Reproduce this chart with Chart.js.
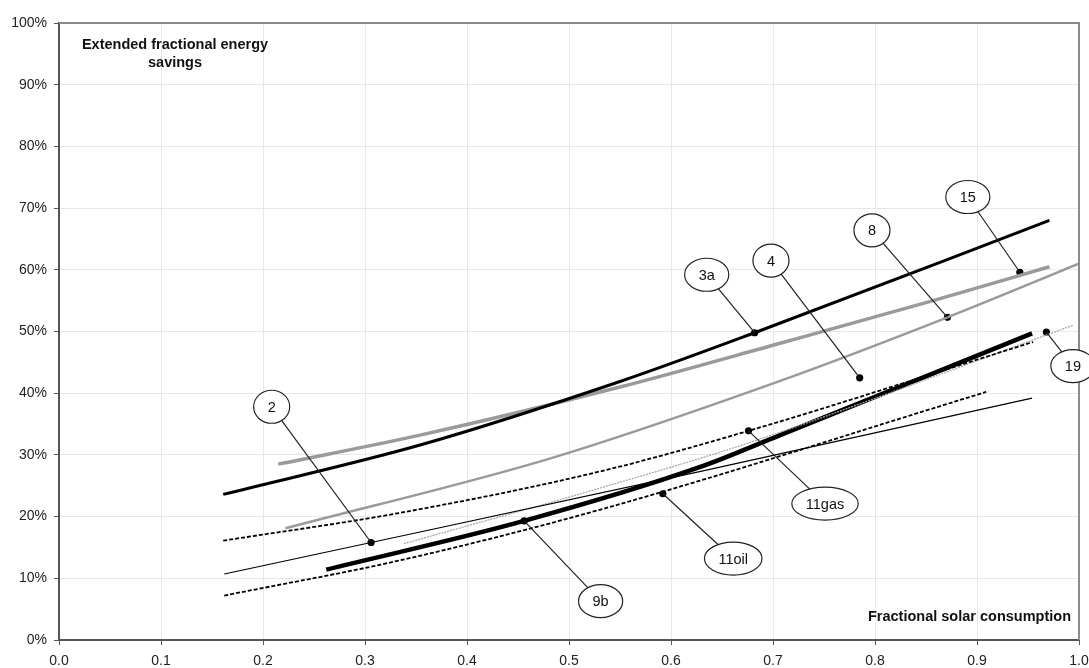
<!DOCTYPE html>
<html>
<head>
<meta charset="utf-8">
<script src="https://cdn.jsdelivr.net/npm/chart.js@4.4.1/dist/chart.umd.min.js"></script>
<style>
  html, body { margin: 0; padding: 0; background: #fff; }
  #wrap { width: 1089px; height: 668px; position: relative; }
</style>
</head>
<body>
<div id="wrap"><canvas id="chart"></canvas></div>
<script>
  // ── Series data (x = fractional solar consumption, y = savings %) ──
  const line3aX = [0.161, 0.354, 0.550, 0.682, 0.971];
  const line3aY = [23.6, 31.6, 41.9, 49.8, 68.0];

  const line8X = [0.215, 0.354, 0.550, 0.707, 0.857, 0.971];
  const line8Y = [28.5, 33.2, 41.0, 48.1, 55.0, 60.5];

  const line4X = [0.222, 0.481, 0.707, 0.871, 1.0];
  const line4Y = [18.1, 29.4, 42.0, 52.3, 61.0];

  const line9bX = [0.262, 0.456, 0.628, 0.707, 0.954];
  const line9bY = [11.4, 19.3, 28.0, 33.2, 49.7];

  const line11gasX = [0.161, 0.334, 0.530, 0.676, 0.955];
  const line11gasY = [16.1, 20.6, 27.3, 33.9, 48.3];

  const line11oilX = [0.162, 0.334, 0.530, 0.909];
  const line11oilY = [7.2, 12.9, 21.1, 40.2];

  const line2X = [0.162, 0.306, 0.628, 0.954];
  const line2Y = [10.7, 15.8, 27.3, 39.2];

  const line19X = [0.338, 0.530, 0.677, 0.994];
  const line19Y = [15.6, 24.6, 32.0, 51.0];

  // ── Callouts: label, bubble position, marker position ──
  const calloutNames   = ['2', '3a', '4', '8', '15', '19', '11gas', '11oil', '9b'];
  const calloutBubbleX = [0.2085, 0.635, 0.698, 0.797, 0.891, 0.994, 0.751, 0.661, 0.531];
  const calloutBubbleY = [37.8, 59.2, 61.5, 66.4, 71.8, 44.4, 22.1, 13.2, 6.3];
  const calloutMarkX   = [0.306, 0.682, 0.785, 0.871, 0.942, 0.968, 0.676, 0.592, 0.456];
  const calloutMarkY   = [15.8, 49.8, 42.5, 52.3, 59.6, 49.9, 33.9, 23.7, 19.3];

  const xTicks = [0, 0.1, 0.2, 0.3, 0.4, 0.5, 0.6, 0.7, 0.8, 0.9, 1.0];
  const yTicks = [0, 10, 20, 30, 40, 50, 60, 70, 80, 90, 100];

  const FONT = "'Liberation Sans', Arial, sans-serif";
  const GRAY = '#9a9a9a';

  const pts = (xs, ys) => xs.map((x, i) => ({ x, y: ys[i] }));

  function series(xs, ys, color, width, dash) {
    return {
      data: pts(xs, ys),
      showLine: true,
      borderColor: color,
      backgroundColor: color,
      borderWidth: width,
      borderDash: dash || [],
      pointRadius: 0,
      cubicInterpolationMode: 'monotone',
      borderCapStyle: 'butt'
    };
  }

  // Frame, axis titles and callout bubbles
  const decorPlugin = {
    id: 'decor',
    afterDatasetsDraw(chart) {
      const { ctx, chartArea: a, scales: { x, y } } = chart;
      ctx.save();

      // top / right frame
      ctx.strokeStyle = '#8c8c8c';
      ctx.lineWidth = 2;
      ctx.beginPath();
      ctx.moveTo(a.left, a.top);
      ctx.lineTo(a.right, a.top);
      ctx.lineTo(a.right, a.bottom);
      ctx.stroke();

      // axis titles
      ctx.fillStyle = '#111';
      ctx.font = 'bold 14.5px ' + FONT;
      ctx.textAlign = 'center';
      ctx.textBaseline = 'middle';
      ctx.fillText('Extended fractional energy', a.left + 116, 45);
      ctx.fillText('savings', a.left + 116, 63);
      ctx.textAlign = 'right';
      ctx.fillText('Fractional solar consumption', a.right - 8, 617);

      // callouts
      ctx.font = '14.5px ' + FONT;
      calloutNames.forEach((name, i) => {
        const bx = x.getPixelForValue(calloutBubbleX[i]);
        const by = y.getPixelForValue(calloutBubbleY[i]);
        const mx = x.getPixelForValue(calloutMarkX[i]);
        const my = y.getPixelForValue(calloutMarkY[i]);

        ctx.strokeStyle = '#222';
        ctx.lineWidth = 1.2;
        ctx.beginPath();
        ctx.moveTo(bx, by);
        ctx.lineTo(mx, my);
        ctx.stroke();

        const tw = ctx.measureText(name).width;
        const rx = Math.max(17, tw / 2 + 14);
        ctx.beginPath();
        ctx.ellipse(bx, by, rx, 16.5, 0, 0, Math.PI * 2);
        ctx.fillStyle = '#fff';
        ctx.fill();
        ctx.stroke();

        ctx.fillStyle = '#111';
        ctx.textAlign = 'center';
        ctx.fillText(name, bx, by + 1);
      });
      ctx.restore();
    }
  };

  new Chart(document.getElementById('chart'), {
    type: 'scatter',
    data: {
      datasets: [
        series(line3aX, line3aY, '#000', 3),
        series(line8X, line8Y, GRAY, 3.5),
        series(line4X, line4Y, GRAY, 2.5),
        series(line11gasX, line11gasY, '#000', 1.8, [4, 2]),
        series(line11oilX, line11oilY, '#000', 1.8, [4, 2]),
        series(line2X, line2Y, '#000', 1.2),
        series(line19X, line19Y, '#a8a8a8', 1.3, [2, 1]),
        series(line9bX, line9bY, '#000', 4.5),
        {
          data: pts(calloutMarkX, calloutMarkY),
          pointRadius: 3.6,
          pointBackgroundColor: '#000',
          pointBorderWidth: 0,
          showLine: false
        }
      ]
    },
    options: {
      responsive: true,
      maintainAspectRatio: false,
      animation: false,
      layout: { padding: { top: 23, right: 10, left: 0, bottom: 0 } },
      plugins: {
        legend: { display: false },
        tooltip: { enabled: false }
      },
      scales: {
        x: {
          type: 'linear',
          min: 0,
          max: 1,
          afterBuildTicks: s => { s.ticks = xTicks.map(v => ({ value: v })); },
          afterFit: s => { s.height = 28; s.paddingLeft = 0; s.paddingRight = 0; },
          grid: { color: '#e8e8e8', tickColor: '#555', tickLength: 5 },
          border: { color: '#555', width: 2 },
          ticks: {
            color: '#222',
            padding: 8,
            maxRotation: 0,
            font: { size: 14, family: FONT },
            callback: v => v.toFixed(1)
          }
        },
        y: {
          type: 'linear',
          min: 0,
          max: 100,
          afterBuildTicks: s => { s.ticks = yTicks.map(v => ({ value: v })); },
          afterFit: s => { s.width = 59; s.paddingTop = 0; s.paddingBottom = 0; },
          grid: { color: '#e8e8e8', tickColor: '#555', tickLength: 5 },
          border: { color: '#555', width: 2 },
          ticks: {
            color: '#222',
            padding: 7,
            font: { size: 14, family: FONT },
            callback: v => v + '%'
          }
        }
      }
    },
    plugins: [decorPlugin]
  });
</script>
</body>
</html>
